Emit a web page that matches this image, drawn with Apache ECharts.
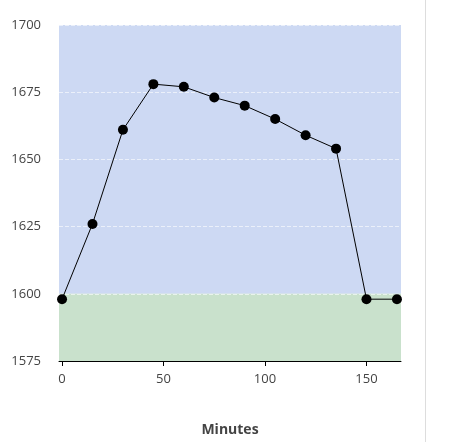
<!DOCTYPE html>
<html><head><meta charset="utf-8">
<script src="https://cdn.jsdelivr.net/npm/echarts@6/dist/echarts.min.js"></script>
<style>html,body{margin:0;padding:0;background:#fff}#c{width:456px;height:442px}
#bar{position:absolute;left:425px;top:0;width:1px;height:442px;background:#ddd}</style>
</head><body><div id="c"></div><div id="bar"></div>
<script>
const minutes = [0,15,30,45,60,75,90,105,120,135,150,165];
const values = [1598,1626,1661,1678,1677,1673,1670,1665,1659,1654,1598,1598];
const xTicks = [0,50,100,150];
const chart = echarts.init(document.getElementById('c'));
chart.setOption({
  animation:false,
  grid:{left:59,right:55,top:25,bottom:81},
  xAxis:{type:'value',min:-1.5,max:167,name:'Minutes',nameLocation:'middle',nameGap:62,
    nameTextStyle:{fontWeight:'bold',fontSize:14,color:'#444',fontFamily:'Open Sans'},
    axisLine:{lineStyle:{color:'#000'}},
    axisTick:{customValues:xTicks,lineStyle:{color:'#000'}},
    axisLabel:{customValues:xTicks,color:'#444',fontSize:13,margin:12,fontFamily:'Open Sans'},
    splitLine:{show:false}},
  yAxis:{type:'value',min:1575,max:1700,interval:25,
    axisLine:{show:false},axisTick:{show:false},
    axisLabel:{color:'#444',fontSize:13,margin:18,fontFamily:'Open Sans',formatter:v=>String(v)},
    splitLine:{lineStyle:{color:'rgba(255,255,255,0.6)',type:'dashed'}}},
  series:[{type:'line',data:minutes.map((m,i)=>[m,values[i]]),
    symbol:'circle',symbolSize:10,itemStyle:{color:'#000'},lineStyle:{color:'#000',width:1},
    z:5,
    markArea:{silent:true,z:-1,data:[
      [{yAxis:1600,itemStyle:{color:'#cdd9f3'}},{yAxis:1700}],
      [{yAxis:1575,itemStyle:{color:'#c9e1cc'}},{yAxis:1600}]
    ]}}]
});
</script></body></html>
